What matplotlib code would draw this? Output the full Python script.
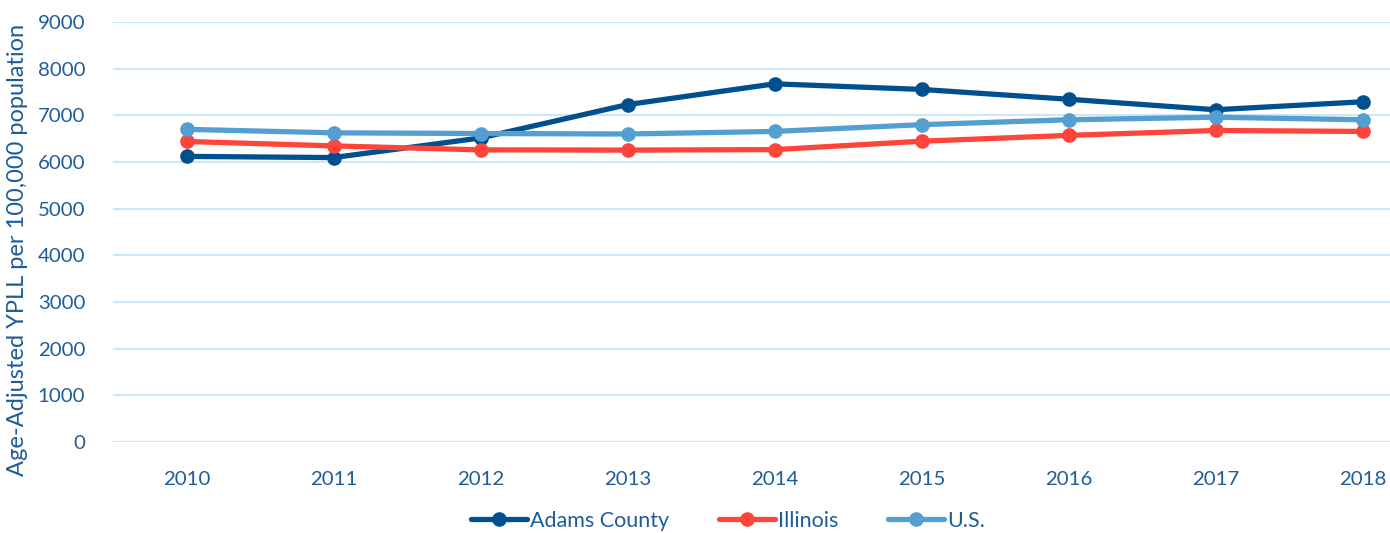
import matplotlib.pyplot as plt
import numpy as np

# Дані
years = ['2010', '2011', '2012', '2013', '2014', '2015', '2016', '2017', '2018']
adams = [6120, 6095, 6515, 7230, 7675, 7555, 7345, 7120, 7290]
illinois = [6440, 6345, 6260, 6255, 6265, 6445, 6570, 6675, 6655]
us = [6700, 6625, 6610, 6600, 6655, 6800, 6905, 6960, 6905]

series_names = ['Adams County', 'Illinois', 'U.S.']
series_colors = ['#00508F', '#FF443A', '#549FD1']
text_color = '#1F5C99'

plt.rcParams['font.family'] = ['Lato', 'DejaVu Sans']

fig = plt.figure(figsize=(13.9, 5.33), dpi=100)
ax = fig.add_axes([113 / 1390, 91 / 533, (1436 - 113) / 1390, 420 / 533])

x = np.arange(len(years))
for vals, name, col in zip([adams, illinois, us], series_names, series_colors):
    ax.plot(x, vals, color=col, linewidth=3.8, marker='o', markersize=9.5,
            label=name, solid_capstyle='round', zorder=3)

ax.set_xlim(-0.5, len(years) - 0.5)
ax.set_ylim(0, 9000)
ax.set_yticks(np.arange(0, 9001, 1000))
ax.set_xticks(x)
ax.set_xticklabels(years)
ax.grid(axis='y', color='#CDE6F8', linewidth=1.5, zorder=0)
for s in ax.spines.values():
    s.set_visible(False)
ax.tick_params(axis='both', length=0, labelsize=14.7, labelcolor=text_color)
ax.tick_params(axis='x', pad=21)
ax.tick_params(axis='y', pad=20)

fig.text(18 / 1390, 1 - 250 / 533, 'Age-Adjusted YPLL per 100,000 population',
         rotation=90, ha='center', va='center', fontsize=17, color=text_color)

leg = fig.legend(loc='center', bbox_to_anchor=(728 / 1390, 1 - 521 / 533), ncol=3,
                 frameon=False, fontsize=15.5, handlelength=2.6, columnspacing=2.3,
                 handletextpad=0.15)
for t in leg.get_texts():
    t.set_color(text_color)

fig.savefig('out.png', dpi=100)
